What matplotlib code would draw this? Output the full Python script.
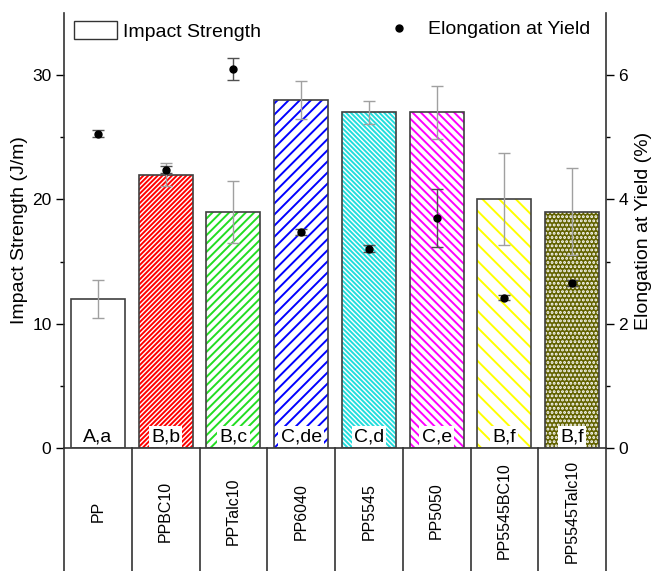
import numpy as np
import matplotlib
matplotlib.use("Agg")
import matplotlib.pyplot as plt
from matplotlib.patches import Patch
from matplotlib.lines import Line2D

plt.rcParams['font.family'] = ['Liberation Sans', 'DejaVu Sans']
plt.rcParams['hatch.linewidth'] = 1.4

# data
categories = ['PP', 'PPBC10', 'PPTalc10', 'PP6040', 'PP5545', 'PP5050',
              'PP5545BC10', 'PP5545Talc10']
impact = [12, 22, 19, 28, 27, 27, 20, 19]
impact_err = [1.5, 0.9, 2.5, 1.5, 0.9, 2.1, 3.7, 3.5]
elong = [5.06, 4.48, 6.10, 3.48, 3.21, 3.70, 2.42, 2.65]
elong_err = [0.05, 0.06, 0.18, 0.05, 0.05, 0.46, 0.04, 0.05]
letters = ['A,a', 'B,b', 'B,c', 'C,de', 'C,d', 'C,e', 'B,f', 'B,f']

# bar styles
hatch_colors = ['white', '#ff0000', '#22dd22', '#0000ff', '#22dddd',
                '#ff00ff', '#ffff00', 'white']
face_colors = ['white'] * 7 + ['#626200']
hatches = ['', '///////', '////', '///', '\\' * 7, '\\\\\\\\', '\\\\', '....']

fig = plt.figure(figsize=(6.52, 5.71), dpi=100)
ax = fig.add_axes([64 / 652, 123 / 571, 542 / 652, 435 / 571])
x = np.arange(len(categories))

# hatched fill, then outline on top
ax.bar(x, impact, width=0.8, color=face_colors, edgecolor=hatch_colors,
       hatch=hatches, linewidth=0, zorder=2)
ax.bar(x, impact, width=0.8, fill=False, edgecolor='#404040', linewidth=1.2,
       zorder=3)
ax.errorbar(x, impact, yerr=impact_err, fmt='none', ecolor='#a0a0a0',
            elinewidth=1, capsize=4, zorder=4)

for i, lab in enumerate(letters):
    ax.annotate(lab, (x[i], 0), xytext=(0, 2), textcoords='offset points',
                ha='center', va='bottom', fontsize=14, zorder=5,
                bbox=dict(facecolor='white', edgecolor='none', pad=1.5))

ax.set_xlim(-0.5, len(categories) - 0.5)
ax.set_ylim(0, 35)
ax.set_yticks([0, 10, 20, 30])
ax.set_yticks([5, 15, 25], minor=True)
ax.set_xticks([])
ax.tick_params(axis='y', direction='out', length=6, width=1, labelsize=12.5,
               pad=3)
ax.tick_params(axis='y', which='minor', direction='out', length=3, width=1)
ax.set_ylabel('Impact Strength (J/m)', fontsize=14, labelpad=3)
ax.spines['top'].set_visible(False)
ax.spines['right'].set_visible(False)
for s in ['left', 'bottom']:
    ax.spines[s].set_color('#333333')
    ax.spines[s].set_linewidth(1.2)

# category "table" under the axis
for b in np.arange(len(categories) + 1) - 0.5:
    ax.axvline(b, ymin=-0.3, ymax=0, color='#333333', lw=1.2, clip_on=False)
for i, c in enumerate(categories):
    ax.text(x[i], -0.145, c, transform=ax.get_xaxis_transform(), rotation=90,
            ha='center', va='center', fontsize=11.5)

# elongation on the right axis
ax2 = ax.twinx()
ax2.errorbar(x, elong, yerr=elong_err, fmt='o', color='black', ms=5,
             ecolor='#505050', elinewidth=1, capsize=4, zorder=5)
ax2.set_ylim(0, 7)
ax2.set_yticks([0, 2, 4, 6])
ax2.set_yticks([1, 3, 5], minor=True)
ax2.tick_params(axis='y', direction='out', length=6, width=1, labelsize=12.5,
                pad=3)
ax2.tick_params(axis='y', which='minor', direction='out', length=3, width=1)
ax2.set_ylabel('Elongation at Yield (%)', fontsize=14, labelpad=5)
for s in ['top', 'left', 'bottom']:
    ax2.spines[s].set_visible(False)
ax2.spines['right'].set_color('#333333')
ax2.spines['right'].set_linewidth(1.2)

leg1 = ax2.legend([Patch(facecolor='white', edgecolor='#333333')],
                  ['Impact Strength'], loc='upper left', frameon=False,
                  fontsize=14, handlelength=2.2, handleheight=1.1,
                  borderaxespad=0.0, handletextpad=0.3,
                  bbox_to_anchor=(0.005, 1.0))
ax2.add_artist(leg1)
ax2.legend([Line2D([], [], marker='o', color='black', ls='none', ms=5)],
           ['Elongation at Yield'], loc='upper right', frameon=False,
           fontsize=14, borderaxespad=0.0, handletextpad=0.5,
           bbox_to_anchor=(0.985, 1.0))

fig.savefig('out.png', dpi=100)
